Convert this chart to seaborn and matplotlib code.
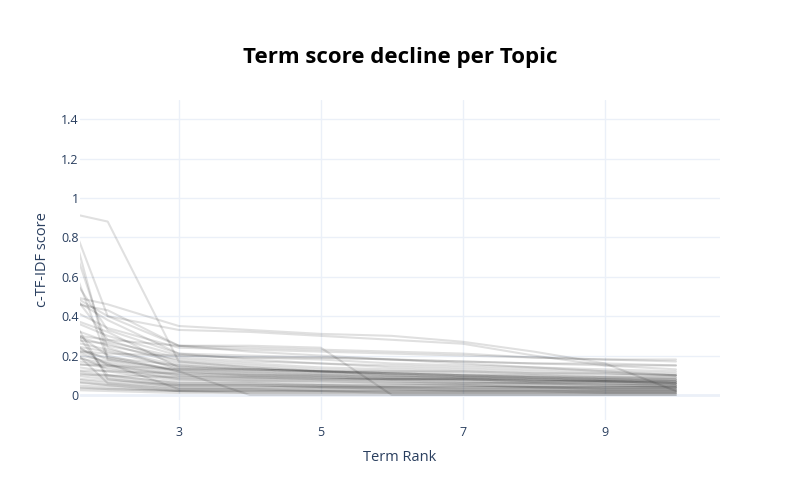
import matplotlib
matplotlib.use("Agg")
import matplotlib.pyplot as plt
import seaborn as sns
import pandas as pd

ranks = [1, 2, 3, 4, 5, 6, 7, 8, 9, 10]
topic_scores = [
    [0.96, 0.88, 0.17, 0.14, 0.12, 0.10, 0.09, 0.08, 0.07, 0.06],
    [1.35, 0.40, 0.25, 0.22, 0.20, 0.18, 0.16, 0.14, 0.12, 0.10],
    [1.52, 0.19, 0.15, 0.13, 0.12, 0.11, 0.10, 0.09, 0.08, 0.07],
    [1.32, 0.24, 0.13, 0.11, 0.10, 0.09, 0.08, 0.07, 0.07, 0.06],
    [1.15, 0.18, 0.12, 0.10, 0.09, 0.08, 0.07, 0.06, 0.05, 0.05],
    [0.87, 0.33, 0.21, 0.18, 0.16, 0.14, 0.13, 0.12, 0.11, 0.10],
    [0.54, 0.46, 0.35, 0.33, 0.31, 0.30, 0.27, 0.22, 0.16, 0.02],
    [0.61, 0.40, 0.33, 0.32, 0.30, 0.28, 0.26, 0.20, 0.15, 0.13],
    [0.75, 0.28, 0.25, 0.25, 0.24, 0.00, 0.00, 0.00, 0.00, 0.00],
    [0.45, 0.20, 0.12, 0.00, 0.00, 0.00, 0.00, 0.00, 0.00, 0.00],
    [0.50, 0.43, 0.25, 0.24, 0.23, 0.22, 0.21, 0.19, 0.18, 0.17],
    [0.60, 0.38, 0.21, 0.20, 0.19, 0.18, 0.17, 0.16, 0.15, 0.15],
    [0.52, 0.34, 0.24, 0.23, 0.22, 0.21, 0.20, 0.19, 0.18, 0.18],
    [0.45, 0.30, 0.20, 0.19, 0.18, 0.16, 0.15, 0.14, 0.13, 0.12],
    [0.40, 0.27, 0.19, 0.17, 0.16, 0.15, 0.14, 0.13, 0.12, 0.11],
    [0.36, 0.25, 0.18, 0.16, 0.14, 0.13, 0.12, 0.11, 0.10, 0.10],
    [0.33, 0.28, 0.17, 0.15, 0.13, 0.12, 0.11, 0.10, 0.09, 0.09],
    [0.30, 0.26, 0.16, 0.14, 0.12, 0.11, 0.10, 0.09, 0.09, 0.08],
    [0.31, 0.23, 0.15, 0.13, 0.12, 0.11, 0.10, 0.09, 0.08, 0.08],
    [0.28, 0.22, 0.14, 0.12, 0.11, 0.10, 0.09, 0.08, 0.08, 0.07],
    [0.32, 0.18, 0.13, 0.12, 0.11, 0.10, 0.09, 0.08, 0.07, 0.07],
    [0.27, 0.19, 0.12, 0.11, 0.10, 0.09, 0.08, 0.08, 0.07, 0.06],
    [0.25, 0.17, 0.11, 0.10, 0.09, 0.08, 0.08, 0.07, 0.06, 0.06],
    [0.22, 0.16, 0.10, 0.09, 0.08, 0.08, 0.07, 0.06, 0.06, 0.05],
    [0.20, 0.15, 0.09, 0.08, 0.08, 0.07, 0.06, 0.06, 0.05, 0.05],
    [0.18, 0.14, 0.08, 0.07, 0.07, 0.06, 0.06, 0.05, 0.05, 0.04],
    [0.17, 0.12, 0.07, 0.07, 0.06, 0.06, 0.05, 0.05, 0.04, 0.04],
    [0.15, 0.10, 0.06, 0.06, 0.05, 0.05, 0.05, 0.04, 0.04, 0.04],
    [0.14, 0.09, 0.05, 0.05, 0.05, 0.04, 0.04, 0.04, 0.03, 0.03],
    [0.12, 0.08, 0.04, 0.04, 0.04, 0.04, 0.03, 0.03, 0.03, 0.03],
    [0.10, 0.06, 0.03, 0.03, 0.03, 0.03, 0.03, 0.03, 0.02, 0.02],
    [0.09, 0.05, 0.03, 0.03, 0.02, 0.02, 0.02, 0.02, 0.02, 0.02],
    [0.08, 0.05, 0.02, 0.02, 0.02, 0.02, 0.02, 0.02, 0.01, 0.01],
    [0.06, 0.04, 0.02, 0.02, 0.02, 0.01, 0.01, 0.01, 0.01, 0.01],
    [0.05, 0.03, 0.02, 0.01, 0.01, 0.01, 0.01, 0.01, 0.01, 0.01],
    [0.04, 0.03, 0.02, 0.02, 0.02, 0.02, 0.02, 0.02, 0.02, 0.02],
    [0.03, 0.02, 0.01, 0.01, 0.01, 0.01, 0.01, 0.01, 0.01, 0.01],
    [0.45, 0.32, 0.14, 0.13, 0.12, 0.11, 0.10, 0.10, 0.09, 0.09],
    [0.38, 0.15, 0.10, 0.09, 0.09, 0.08, 0.08, 0.07, 0.07, 0.06],
    [0.29, 0.13, 0.08, 0.08, 0.07, 0.07, 0.06, 0.06, 0.06, 0.05],
    [0.58, 0.10, 0.06, 0.06, 0.05, 0.05, 0.05, 0.04, 0.04, 0.04],
    [0.70, 0.08, 0.05, 0.05, 0.04, 0.04, 0.04, 0.04, 0.03, 0.03],
    [0.40, 0.06, 0.04, 0.04, 0.04, 0.03, 0.03, 0.03, 0.03, 0.03],
    [0.16, 0.15, 0.13, 0.13, 0.12, 0.12, 0.12, 0.11, 0.11, 0.10],
    [0.13, 0.12, 0.11, 0.10, 0.10, 0.09, 0.09, 0.09, 0.08, 0.08],
    [0.11, 0.10, 0.09, 0.09, 0.08, 0.08, 0.08, 0.07, 0.07, 0.07],
    [0.30, 0.16, 0.03, 0.03, 0.03, 0.03, 0.02, 0.02, 0.02, 0.02],
    [0.24, 0.21, 0.20, 0.19, 0.19, 0.18, 0.17, 0.16, 0.16, 0.15],
    [0.10, 0.07, 0.05, 0.05, 0.04, 0.04, 0.04, 0.04, 0.04, 0.04],
]
y_ticks = [0, 0.2, 0.4, 0.6, 0.8, 1, 1.2, 1.4]
y_tick_labels = ["0", "0.2", "0.4", "0.6", "0.8", "1", "1.2", "1.4"]
x_ticks = [3, 5, 7, 9]

rows = []
for t, scores in enumerate(topic_scores):
    for r, s in zip(ranks, scores):
        rows.append({"topic": t, "rank": r, "score": s})
df = pd.DataFrame(rows)

sns.set_theme(style="white")
plt.rcParams["font.family"] = ["Open Sans", "DejaVu Sans"]

fig = plt.figure(figsize=(8, 5), dpi=100)
ax = fig.add_axes([0.1, 0.16, 0.8, 0.64])

grid_c = "#EBF0F8"
for yt in y_ticks[1:]:
    ax.axhline(yt, color=grid_c, lw=1, zorder=0)
for xt in x_ticks:
    ax.axvline(xt, color=grid_c, lw=1, zorder=0)
ax.axhline(0, color=grid_c, lw=2, zorder=0)

sns.lineplot(data=df, x="rank", y="score", units="topic", estimator=None,
             color="black", alpha=0.12, lw=1.5, ax=ax, legend=False)

ax.set_xlim(1.61, 10.62)
ax.set_ylim(-0.127, 1.497)
ax.set_xticks(x_ticks)
ax.set_xticklabels([str(x) for x in x_ticks])
ax.set_yticks(y_ticks)
ax.set_yticklabels(y_tick_labels)
for s in ax.spines.values():
    s.set_visible(False)
ax.tick_params(axis="both", length=0, labelsize=9, colors="#2a3f5f")
ax.tick_params(axis="x", pad=4)
ax.tick_params(axis="y", pad=1)
ax.set_xlabel("Term Rank", fontsize=10.5, color="#2a3f5f", labelpad=8)
ax.set_ylabel("c-TF-IDF score", fontsize=10.5, color="#2a3f5f", labelpad=8)

fig.text(0.5, 0.884, "Term score decline per Topic", ha="center", va="center",
         fontsize=16, fontweight="bold", color="black")

fig.savefig("out.png", dpi=100)
